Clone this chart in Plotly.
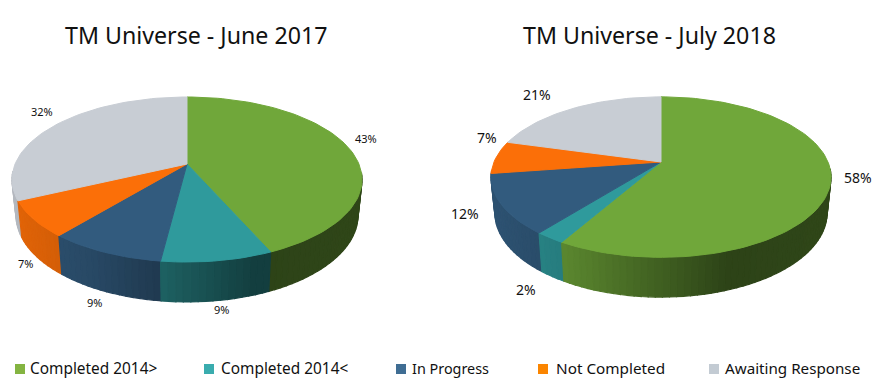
import math
import plotly.graph_objects as go

categories = ["Completed 2014>", "Completed 2014<", "In Progress", "Not Completed", "Awaiting Response"]
june_2017 = [43.4, 8.6, 9.0, 7.0, 32.0]
july_2018 = [58.3, 2.4, 12.0, 6.6, 20.7]
chart_titles = ["TM Universe - June 2017", "TM Universe - July 2018"]

top_colors = ["#70a73a", "#2f9a9c", "#325b7e", "#fb6f08", "#c8cdd4"]
key_colors = ["#84b441", "#3aacae", "#3f6d93", "#fb8500", "#c3cbd3"]

FONT = "Noto Sans"
W, H = 880, 382
KEY_Y = 369
KEY_X = [20, 209, 401, 543, 714]
KEY_TEXT_X = [29, 220, 411, 555, 724]
KEY_FONT = [15.4, 15.4, 14.4, 15.3, 15.2]
LIGHT_T = [-1.0, -0.56, -0.15, 0.4, 1.0]
LIGHT_F = [0.90, 0.80, 0.63, 0.40, 0.42]

PIES = [
    dict(vals=june_2017, cx=187, cy=164, a=171.9, b=79.6, title_x=196.5, title_y=35, font=11,
         label_xy=[(366, 138), (221, 309), (94, 302), (25, 263), (42, 111)]),
    dict(vals=july_2018, cx=661, cy=162, a=167.0, b=77.4, title_x=649.5, title_y=35, font=14,
         label_xy=[(858, 177), (526, 289), (465, 213), (487, 137), (537, 94)]),
]
K = 0.188
SX, SY, DEPTH = 0.977, 1.05, 35


def project(p, deg, bottom=False):
    th = math.radians(deg)
    u, v = math.sin(th), -math.cos(th)
    d = 1 - K * v
    x, y = p["a"] * u / d, p["b"] * v / d
    if bottom:
        x, y = x * SX, y * SY + DEPTH
    return p["cx"] + x, p["cy"] + y


def shade(hex_color, f):
    r, g, b = (int(hex_color[i:i + 2], 16) for i in (1, 3, 5))
    return f"rgb({r * f:.0f},{g * f:.0f},{b * f:.0f})"


def light(t):
    t = max(-1.0, min(1.0, t))
    for i in range(len(LIGHT_T) - 1):
        if t <= LIGHT_T[i + 1]:
            s = (t - LIGHT_T[i]) / (LIGHT_T[i + 1] - LIGHT_T[i])
            return LIGHT_F[i] + s * (LIGHT_F[i + 1] - LIGHT_F[i])
    return LIGHT_F[-1]


def poly(xs, ys, color, width=0.6):
    return go.Scatter(x=xs, y=ys, mode="lines", fill="toself", fillcolor=color,
                      line=dict(color=color, width=width), hoverinfo="skip", showlegend=False)


fig = go.Figure()
for p in PIES:
    total = sum(p["vals"])
    walls, tops = [], []
    start = 0.0
    for val, col in zip(p["vals"], top_colors):
        sweep = val / total * 360
        n = max(2, int(sweep / 2))
        angs = [start + sweep * i / n for i in range(n + 1)]
        for a0, a1 in zip(angs[:-1], angs[1:]):
            v_mid = -math.cos(math.radians((a0 + a1) / 2))
            if v_mid < 0.1:
                continue
            t0, t1 = project(p, a0), project(p, a1)
            b0, b1 = project(p, a0, True), project(p, a1, True)
            mid = (t0[0] + t1[0]) / 2
            f = light((mid - p["cx"]) / p["a"])
            walls.append((v_mid,
                          [t0[0], t1[0], b1[0], b0[0], t0[0]],
                          [t0[1], t1[1], b1[1], b0[1], t0[1]], shade(col, f)))
        rim = [project(p, a) for a in angs]
        tops.append(poly([p["cx"]] + [r[0] for r in rim] + [p["cx"]],
                         [p["cy"]] + [r[1] for r in rim] + [p["cy"]], col, 1.0))
        start += sweep
    for _, xs, ys, c in sorted(walls, key=lambda w: w[0]):
        fig.add_trace(poly(xs, ys, c, 1.2))
    for t in tops:
        fig.add_trace(t)
    for val, (lx, ly) in zip(p["vals"], p["label_xy"]):
        fig.add_annotation(x=lx, y=ly, text=f"{round(val)}%", showarrow=False,
                           font=dict(family=FONT, size=p["font"], color="#111111"))

for p, title in zip(PIES, chart_titles):
    fig.add_annotation(x=p["title_x"], y=p["title_y"], text=title, showarrow=False,
                       font=dict(family=FONT, size=23.2, color="#111111"))

for name, col, kx, tx, fs in zip(categories, key_colors, KEY_X, KEY_TEXT_X, KEY_FONT):
    fig.add_trace(go.Scatter(x=[kx], y=[KEY_Y], mode="markers",
                             marker=dict(symbol="square", size=10, color=col),
                             hoverinfo="skip", showlegend=False))
    fig.add_annotation(x=tx, y=KEY_Y - 1, text=name, showarrow=False, xanchor="left",
                       xshift=-1, font=dict(family=FONT, size=fs, color="#111111"))

fig.update_layout(
    width=W, height=H, margin=dict(l=0, r=0, t=0, b=0),
    paper_bgcolor="white", plot_bgcolor="white", showlegend=False,
    xaxis=dict(range=[0, W], visible=False, fixedrange=True),
    yaxis=dict(range=[H, 0], visible=False, fixedrange=True),
)
fig.write_html("out.html", config=dict(displayModeBar=False),
               post_script="document.body.style.margin='0';document.documentElement.style.overflow='hidden';")
